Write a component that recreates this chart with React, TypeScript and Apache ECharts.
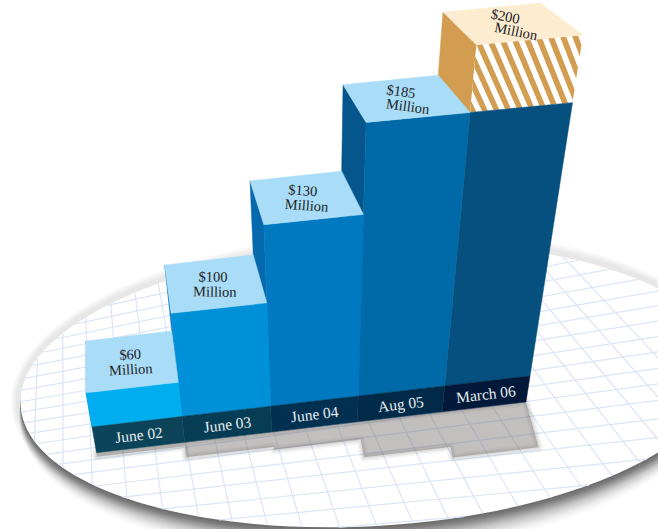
import React, { useEffect, useRef } from "react";
import * as echarts from "echarts";

// ---- data ----
const categories = ["June 02", "June 03", "June 04", "Aug 05", "March 06"];
const amounts = [60, 100, 130, 185, 200];
const unitLabel = "Million";
// drawn height of the solid part of each column, on the hidden value axis (the picture is not to scale)
const solidHeights = [12.3, 35.3, 58.8, 83.5, 83.5];
// top of the hatched part (0 = no hatched part)
const hatchedTops = [0, 0, 0, 0, 100];
// drop-shadow length of each column on the floor
const shadowLengths = [4, 15, 18, 36, 47];

// ---- colours ----
const frontColors = ["#00aeef", "#0090d7", "#0079c1", "#006aa8", "#05507f"];
const sideColors = ["#0090d7", "#0079c1", "#0669ad", "#05568c", "#d29d50"];
const topColors = ["#a9dcf6", "#a9dcf6", "#a9dcf6", "#a9dcf6", "#fdecd0"];
const bandColors = ["#0b4358", "#073d54", "#013051", "#012a48", "#02193a"];
const HATCH = "#d29d50";
const GRID_LINE = "#dbe5f6";

// ---- scene set-up ----
const W = 658;
const H = 529;
const GRID = { left: 100, top: 50, width: 400, height: 440 };
const X_MAX = 5;
const Y_MIN = -10;
const Y_MAX = 100;
const BAND = -9.7;

// corners of the front plane on the page
const Q = [[92, 427], [530, 376], [583, 35], [32, 85]];
const den = (Q[1][0] - Q[2][0]) * (Q[3][1] - Q[2][1]) - (Q[3][0] - Q[2][0]) * (Q[1][1] - Q[2][1]);
const sx = Q[0][0] - Q[1][0] + Q[2][0] - Q[3][0];
const sy = Q[0][1] - Q[1][1] + Q[2][1] - Q[3][1];
const hg = (sx * (Q[3][1] - Q[2][1]) - (Q[3][0] - Q[2][0]) * sy) / den;
const hh = ((Q[1][0] - Q[2][0]) * sy - sx * (Q[1][1] - Q[2][1])) / den;
const ha = Q[1][0] - Q[0][0] + hg * Q[1][0];
const hb = Q[3][0] - Q[0][0] + hh * Q[3][0];
const hd = Q[1][1] - Q[0][1] + hg * Q[1][1];
const he = Q[3][1] - Q[0][1] + hh * Q[3][1];

function toScene(c: number[]) {
  const u = (c[0] - GRID.left) / GRID.width;
  const yVal = ((GRID.top + GRID.height - c[1]) / GRID.height) * (Y_MAX - Y_MIN) + Y_MIN;
  const v = yVal / Y_MAX;
  const w = hg * u + hh * v + 1;
  return [(ha * u + hb * v + Q[0][0]) / w, (hd * u + he * v + Q[0][1]) / w];
}

// depth of a column: towards the upper vanishing point
const DEPTH_VP = [86, -336];
function back(p: number[]) {
  const f = 0.071 + (393 - p[1]) * 0.000042;
  return [p[0] + (DEPTH_VP[0] - p[0]) * f, p[1] + (DEPTH_VP[1] - p[1]) * f];
}

// floor
const FLOOR = { cx: 372, cy: 385, rx: 352, ry: 141, rot: 0.06 };
const FLOOR_VP_A = [-1700, 700];
const FLOOR_VP_B = [62, -275];
const SHADOW_VP = [22, -1407];
const gridAcrossY = [200, 215, 229, 243, 258, 273, 288, 303, 317, 332, 347, 362, 378, 393, 409, 427, 445, 465, 485, 506, 528, 550];
const gridDepthX = [5, 34, 63, 91, 123, 155, 187, 217, 248, 279, 313, 347, 381, 415, 449, 485, 520, 556, 593, 630, 667, 705, 745];

function chord(p: number[], q: number[]) {
  const cos = Math.cos(FLOOR.rot);
  const sin = Math.sin(FLOOR.rot);
  const loc = (a: number[]) => {
    const dx = a[0] - FLOOR.cx;
    const dy = a[1] - FLOOR.cy;
    return [(dx * cos - dy * sin) / FLOOR.rx, (dx * sin + dy * cos) / FLOOR.ry];
  };
  const a = loc(p);
  const b = loc(q);
  const d = [b[0] - a[0], b[1] - a[1]];
  const A = d[0] * d[0] + d[1] * d[1];
  const B = 2 * (a[0] * d[0] + a[1] * d[1]);
  const C = a[0] * a[0] + a[1] * a[1] - 1;
  const disc = B * B - 4 * A * C;
  if (disc <= 0) return null;
  const t0 = (-B - Math.sqrt(disc)) / (2 * A);
  const t1 = (-B + Math.sqrt(disc)) / (2 * A);
  return {
    x1: p[0] + (q[0] - p[0]) * t0,
    y1: p[1] + (q[1] - p[1]) * t0,
    x2: p[0] + (q[0] - p[0]) * t1,
    y2: p[1] + (q[1] - p[1]) * t1,
  };
}

function floorGraphics() {
  const out: any[] = [];
  const ring = (dy: number, grow: number, d: number, alpha: number) => ({
    type: "ellipse",
    x: FLOOR.cx,
    y: FLOOR.cy + dy,
    rotation: FLOOR.rot,
    shape: { cx: 0, cy: 0, rx: FLOOR.rx + d * grow, ry: FLOOR.ry + d },
    style: { fill: `rgba(0,0,0,${alpha.toFixed(4)})` },
    z: 0,
  });
  // even grey halo all round the disc
  [12, 10, 8, 6].forEach((d) => out.push(ring(0, 0.8, d, 0.025)));
  // darker shade below the disc: the larger ellipses sit lower
  const SPREAD = 14;
  for (let d = SPREAD; d >= 0; d--) {
    const k = 1 - d / SPREAD;
    out.push(ring(2 + d * 0.9, 0.1, d, 0.01 + 0.07 * k));
  }
  out.push({
    type: "ellipse",
    x: FLOOR.cx,
    y: FLOOR.cy,
    rotation: FLOOR.rot,
    shape: { cx: 0, cy: 0, rx: FLOOR.rx, ry: FLOOR.ry },
    style: { fill: "#ffffff" },
    z: 0,
  });
  const add = (s: any) => {
    if (s) out.push({ type: "line", shape: s, style: { stroke: GRID_LINE, lineWidth: 1.2 }, z: 1 });
  };
  gridAcrossY.forEach((y) => add(chord(FLOOR_VP_A, [590, y])));
  gridDepthX.forEach((x) => add(chord(FLOOR_VP_B, [x, 450])));
  return out;
}

// clip a polygon to lo <= x <= hi
function clipX(poly: number[][], lo: number, hi: number) {
  const pass = (pts: number[][], inside: (p: number[]) => boolean, edge: number) => {
    const res: number[][] = [];
    pts.forEach((p, i) => {
      const q = pts[(i + 1) % pts.length];
      const pi = inside(p);
      const qi = inside(q);
      if (pi) res.push(p);
      if (pi !== qi) {
        const t = (edge - p[0]) / (q[0] - p[0]);
        res.push([edge, p[1] + (q[1] - p[1]) * t]);
      }
    });
    return res;
  };
  return pass(pass(poly, (p) => p[0] >= lo, lo), (p) => p[0] <= hi, hi);
}

const SERIF = '"Liberation Serif", serif';

function renderShadow(params: any, api: any) {
  if (params.dataIndex !== 0) return { type: "group", children: [] };
  const pt = (x: number, y: number) => toScene(api.coord([x, y]));
  const drop = (p: number[], len: number) => {
    const d = [p[0] - SHADOW_VP[0], p[1] - SHADOW_VP[1]];
    const n = Math.hypot(d[0], d[1]);
    return [p[0] + (d[0] / n) * len, p[1] + (d[1] / n) * len];
  };
  const pts: number[][] = [pt(0, BAND), pt(X_MAX, BAND)];
  for (let i = categories.length - 1; i >= 0; i--) {
    pts.push(drop(pt(i + 1, BAND), shadowLengths[i]));
    pts.push(drop(pt(i, BAND), shadowLengths[i]));
  }
  const shade = (lineWidth: number, alpha: number) => ({
    type: "polygon",
    shape: { points: pts },
    style: {
      fill: "transparent",
      stroke: `rgba(110,105,103,${alpha})`,
      lineWidth,
      lineJoin: "round",
    },
  });
  return {
    type: "group",
    children: [
      shade(9, 0.06),
      shade(6, 0.08),
      shade(3, 0.1),
      {
        type: "polygon",
        shape: { points: pts },
        style: { fill: "rgba(110,105,103,0.42)" },
      },
    ],
  };
}

function renderColumn(_params: any, api: any) {
  const i = api.value(0);
  const h = api.value(2);
  const top = api.value(3) || h;
  const pt = (x: number, y: number) => toScene(api.coord([x, y]));
  const poly = (points: number[][], fill: string) => ({
    type: "polygon",
    shape: { points },
    style: { fill, stroke: fill, lineWidth: 0.5 },
  });
  const children: any[] = [];
  const bl = pt(i, 0);
  const br = pt(i + 1, 0);
  const tl = pt(i, top);
  const tr = pt(i + 1, top);
  // side
  children.push(poly([bl, tl, back(tl), back(bl)], sideColors[i]));
  // hatched part
  if (top > h) {
    const sl = pt(i, h);
    const sr = pt(i + 1, h);
    children.push({
      type: "polygon",
      shape: { points: [sl, sr, tr, tl] },
      style: { fill: "#ffffff" },
    });
    const period = 0.112;
    const width = 0.056;
    const lean = 0.34;
    for (let k = -4; k <= 9; k++) {
      const a = i + lean + k * period;
      const cell = clipX(
        [[a, h], [a + width, h], [a + width - lean, top], [a - lean, top]],
        i,
        i + 1,
      );
      if (cell.length > 2) {
        children.push({
          type: "polygon",
          shape: { points: cell.map((c) => pt(c[0], c[1])) },
          style: { fill: HATCH },
        });
      }
    }
    children.push(poly([bl, br, sr, sl], frontColors[i]));
  } else {
    children.push(poly([bl, br, tr, tl], frontColors[i]));
  }
  // top
  const btl = back(tl);
  const btr = back(tr);
  children.push(poly([tl, tr, btr, btl], topColors[i]));
  // band
  const l2 = pt(i, BAND);
  const r2 = pt(i + 1, BAND);
  children.push(poly([bl, br, r2, l2], bandColors[i]));
  // band label
  const mid = pt(i + 0.5, BAND / 2);
  const slope = Math.atan2(bl[1] - br[1], br[0] - bl[0]);
  children.push({
    type: "text",
    x: mid[0],
    y: mid[1],
    rotation: slope,
    style: {
      text: categories[i],
      font: `15.5px ${SERIF}`,
      fill: "#e8eef1",
      align: "center",
      verticalAlign: "middle",
    },
  });
  // amount label: the second line is shifted along the depth of the top face
  const cx = (tl[0] + tr[0] + btl[0] + btr[0]) / 4;
  const cy = (tl[1] + tr[1] + btl[1] + btr[1]) / 4;
  const dx = (tl[0] + tr[0] - btl[0] - btr[0]) / 2;
  const dy = (tl[1] + tr[1] - btl[1] - btr[1]) / 2;
  const LINE = 15;
  const shift = LINE * (dx / dy) * 0.6;
  const tilt = ((3 - i * 3.6) * Math.PI) / 180;
  [`$${amounts[i]}`, unitLabel].forEach((text, line) => {
    const s = line === 0 ? -0.5 : 0.5;
    children.push({
      type: "text",
      x: cx + s * shift,
      y: cy + s * LINE,
      rotation: tilt,
      style: {
        text,
        font: `14.5px ${SERIF}`,
        fill: "#1c2226",
        align: "center",
        verticalAlign: "middle",
      },
    });
  });
  return { type: "group", children };
}

export default function App() {
  const ref = useRef<HTMLDivElement>(null);
  useEffect(() => {
    const chart = echarts.init(ref.current!, undefined, { renderer: "svg" });
    const rows = categories
      .map((_, i) => [i, i + 1, solidHeights[i], hatchedTops[i]])
      .reverse();
    chart.setOption({
      animation: false,
      backgroundColor: "#ffffff",
      grid: { ...GRID, containLabel: false },
      xAxis: { type: "value", min: 0, max: X_MAX, show: false },
      yAxis: { type: "value", min: Y_MIN, max: Y_MAX, show: false },
      graphic: floorGraphics(),
      series: [
        {
          type: "custom",
          z: 3,
          clip: false,
          silent: true,
          renderItem: renderShadow,
          data: [[0, 0, 0, 0]],
          encode: { x: 0, y: 2 },
        },
        {
          type: "custom",
          z: 4,
          clip: false,
          silent: true,
          renderItem: renderColumn,
          data: rows,
          dimensions: ["index", "next", "height", "hatchedTop"],
          encode: { x: [0, 1], y: [2, 3] },
        },
      ],
    });
    return () => chart.dispose();
  }, []);
  return (
    <div
      ref={ref}
      style={{ position: "absolute", left: 0, top: 0, width: W, height: H }}
    />
  );
}
